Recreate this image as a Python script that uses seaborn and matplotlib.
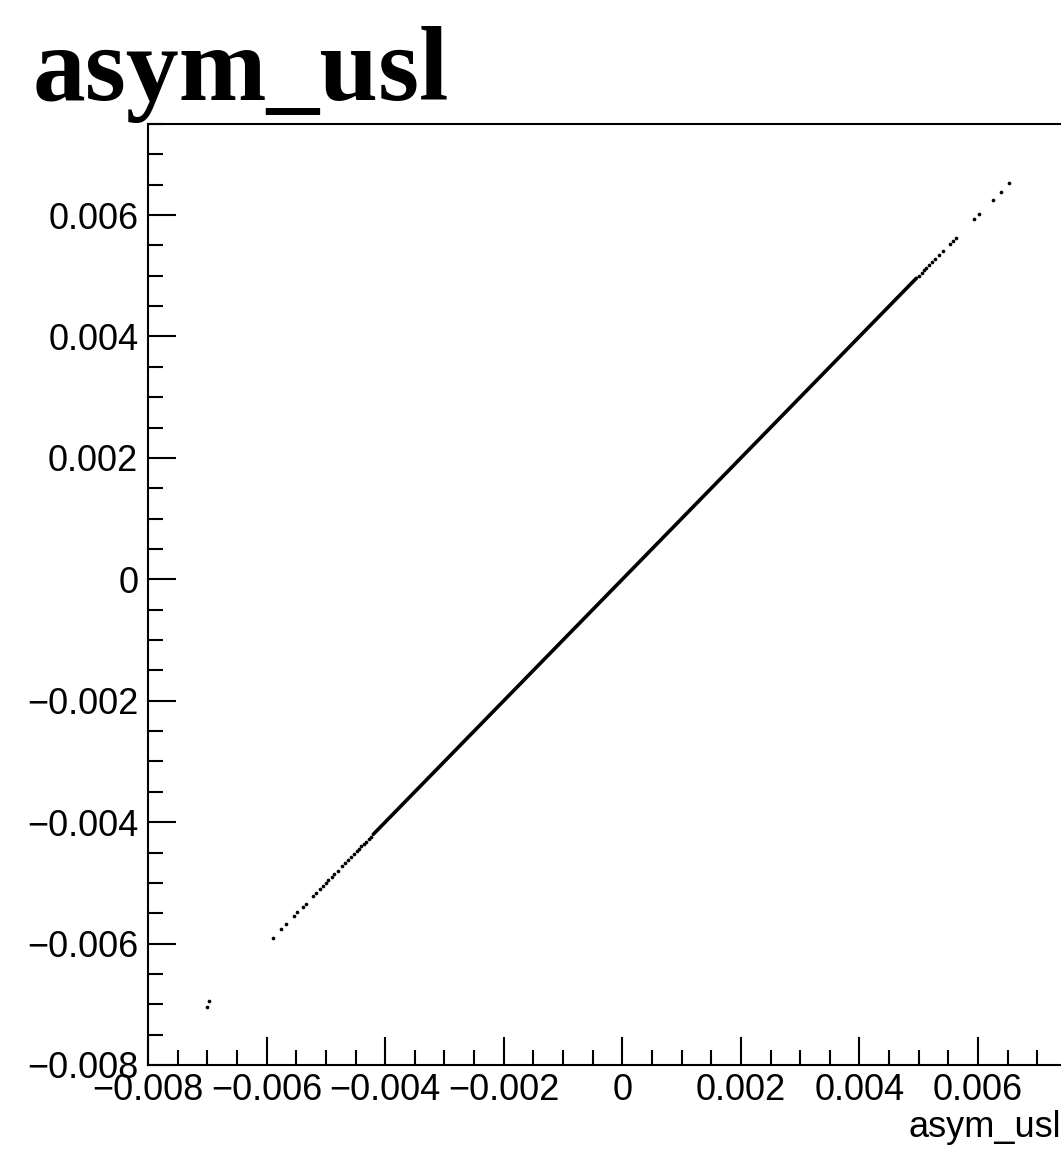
import matplotlib
matplotlib.use("Agg")
import matplotlib.pyplot as plt
import seaborn as sns
import pandas as pd
from matplotlib.ticker import MultipleLocator, FuncFormatter

# ---- data (asym_usl vs asym_usl) ----
# dense continuous band: endpoints
band_x = [-0.00420, -0.00227, -0.00022, 0.00198, 0.00496]
band_y = [-0.00420, -0.00227, -0.00022, 0.00198, 0.00496]

# isolated / sparse points
pts_x = [-0.00701, -0.00697, -0.00590, -0.00576, -0.00567, -0.00554, -0.00548,
         -0.00539, -0.00534, -0.00522, -0.00517, -0.00510, -0.00505, -0.00500,
         -0.00496, -0.00490, -0.00486, -0.00480, -0.00473, -0.00468, -0.00463,
         -0.00458, -0.00453, -0.00448, -0.00444, -0.00440, -0.00436, -0.00432,
         -0.00428, -0.00424,
         0.00500, 0.00505, 0.00509, 0.00513, 0.00518, 0.00522, 0.00527, 0.00534,
         0.00541, 0.00552, 0.00557, 0.00563, 0.00593, 0.00602, 0.00625, 0.00638,
         0.00652]
pts_y = [-0.00704, -0.00695, -0.00590, -0.00576, -0.00567, -0.00554, -0.00548,
         -0.00539, -0.00534, -0.00522, -0.00517, -0.00510, -0.00505, -0.00500,
         -0.00496, -0.00490, -0.00486, -0.00480, -0.00473, -0.00468, -0.00463,
         -0.00458, -0.00453, -0.00448, -0.00444, -0.00440, -0.00436, -0.00432,
         -0.00428, -0.00424,
         0.00500, 0.00505, 0.00509, 0.00513, 0.00518, 0.00522, 0.00527, 0.00534,
         0.00541, 0.00552, 0.00557, 0.00563, 0.00593, 0.00602, 0.00625, 0.00638,
         0.00652]

title = "asym_usl"
x_title = "asym_usl"
x_range = (-0.008, 0.0075)
y_range = (-0.008, 0.0075)

sns.set_theme(style="white")
plt.rcParams["font.family"] = ["Liberation Sans", "DejaVu Sans"]
plt.rcParams["text.color"] = "black"
plt.rcParams["axes.labelcolor"] = "black"

W, H = 1061, 1167
fig = plt.figure(figsize=(W / 100, H / 100), dpi=100)
ax = fig.add_axes([148 / W, (H - 1065) / H, 919 / W, 941 / H])

band = pd.DataFrame({"x": band_x, "y": band_y})
pts = pd.DataFrame({"x": pts_x, "y": pts_y})
sns.lineplot(data=band, x="x", y="y", ax=ax, color="black", linewidth=2.6,
             estimator=None, sort=False)
sns.scatterplot(data=pts, x="x", y="y", ax=ax, color="black", s=7,
                linewidth=0, marker="o")

ax.set_xlim(*x_range)
ax.set_ylim(*y_range)

fmt = FuncFormatter(lambda v, p: "0" if abs(v) < 1e-12 else f"{v:.3f}".replace("-", "\u2212"))
for axis in (ax.xaxis, ax.yaxis):
    axis.set_major_locator(MultipleLocator(0.002))
    axis.set_minor_locator(MultipleLocator(0.0005))
    axis.set_major_formatter(fmt)

ax.tick_params(axis="both", which="both", direction="in", colors="black",
               labelsize=26, top=False, right=False, bottom=True, left=True)
ax.tick_params(axis="both", which="major", length=20, width=1.5)
ax.tick_params(axis="both", which="minor", length=10.5, width=1.5)
ax.tick_params(axis="x", which="major", pad=6)
ax.tick_params(axis="y", which="major", pad=7)

for s in ax.spines.values():
    s.set_color("black")
    s.set_linewidth(1.5)

ax.set_ylabel("")
ax.set_xlabel(x_title, fontsize=26, ha="right", color="black")
ax.xaxis.set_label_coords(0.9935, -0.048)

fig.text(33 / W, (H - 100) / H, title, fontsize=76, fontweight="bold",
         color="black",
         family=["Liberation Serif", "DejaVu Serif"], va="baseline", ha="left")

fig.savefig("out.png", dpi=100, facecolor="white")
